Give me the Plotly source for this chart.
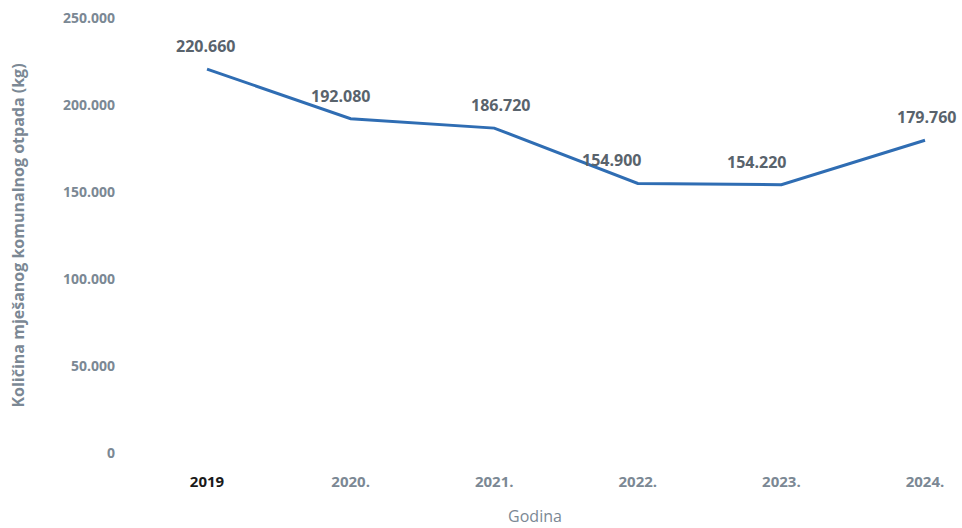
import plotly.graph_objects as go

years = ["2019", "2020.", "2021.", "2022.", "2023.", "2024."]
values = [220660, 192080, 186720, 154900, 154220, 179760]
label_xshift = [-2, -10, 6, -26, -25, 1]
y_ticks = [0, 50000, 100000, 150000, 200000, 250000]

xs = list(range(len(years)))
tick_text = ["<span style='color:#1a1a1a'>2019</span>"] + years[1:]

fig = go.Figure()
fig.add_trace(go.Scatter(
    x=xs, y=values, mode="lines",
    line=dict(color="#2f6db3", width=3),
    hoverinfo="skip", cliponaxis=False,
))

for x, v, dx in zip(xs, values, label_xshift):
    fig.add_annotation(
        x=x, y=v, text=f"{v:,}".replace(",", "."),
        showarrow=False, yshift=23, xshift=dx,
        font=dict(family="Open Sans", size=16, color="#59636c", weight="bold"),
    )

fig.update_layout(
    width=962, height=528,
    margin=dict(l=120, r=12, t=18, b=75),
    plot_bgcolor="white", paper_bgcolor="white",
    separators=",.",
    showlegend=False,
    font=dict(family="Open Sans", color="#7b8894"),
)
fig.update_xaxes(
    tickmode="array", tickvals=xs, ticktext=tick_text,
    range=[-0.606, 5.174], automargin=False,
    showgrid=False, zeroline=False, showline=False,
    ticklabelstandoff=18,
    tickfont=dict(family="Open Sans", size=15, color="#7b8894", weight="bold"),
    title=dict(text="Godina", font=dict(family="Open Sans", size=16, color="#7b8894"), standoff=20),
)
fig.update_yaxes(
    range=[0, 250000], tickmode="array", tickvals=y_ticks,
    tickformat=",d", automargin=False,
    showgrid=False, zeroline=False, showline=False,
    ticklabelstandoff=4,
    tickfont=dict(family="Open Sans", size=14, color="#7b8894", weight="bold"),
    title=dict(text="Količina mješanog komunalnog otpada (kg)",
               font=dict(family="Open Sans", size=16, color="#7b8894", weight="bold"), standoff=34),
)

fig.write_html(
    "out.html",
    config={"displayModeBar": False},
    post_script="document.body.style.margin='0';document.body.style.padding='0';",
)
